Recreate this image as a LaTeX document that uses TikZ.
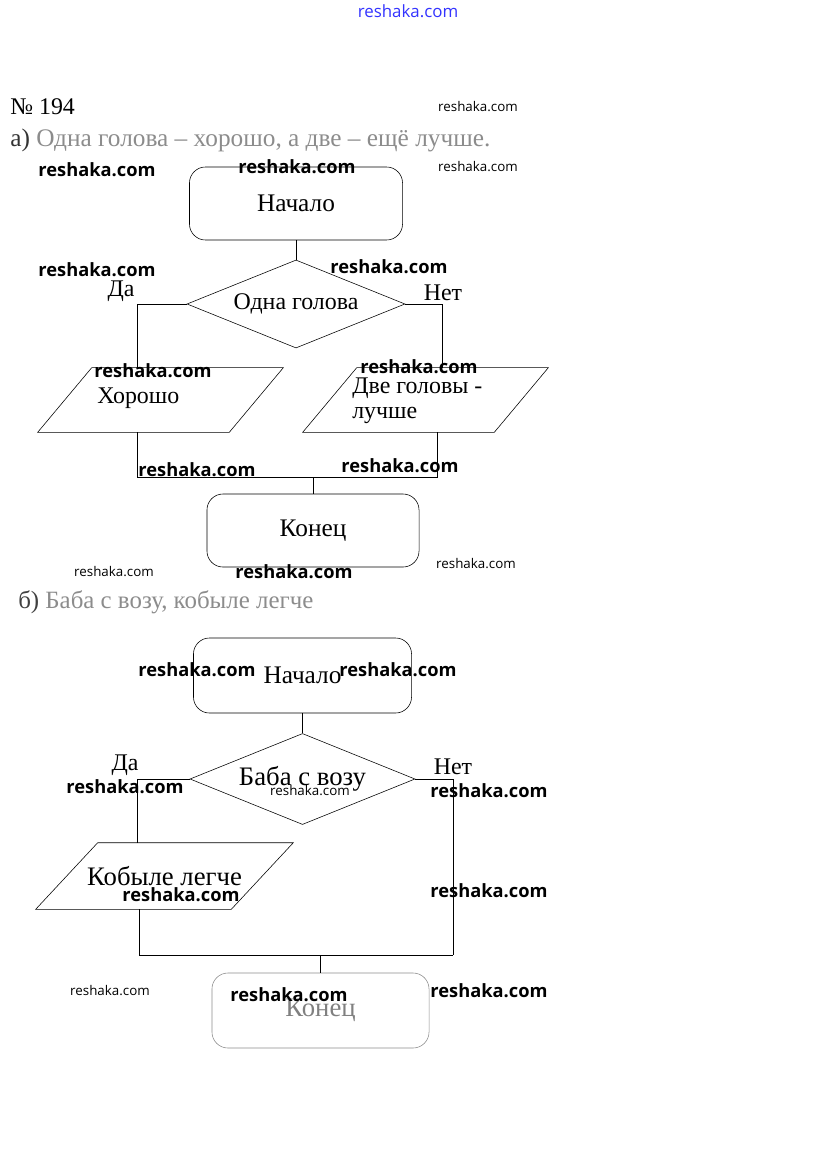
\documentclass[tikz,border=0pt]{standalone}
\usepackage{fontspec}
\setmainfont{Liberation Serif}
\newfontfamily\wmfont{Open Sans}
\usetikzlibrary{positioning}
\usetikzlibrary{shapes.geometric}
\usetikzlibrary{calc}
\tikzset{term/.style={draw, rounded corners=0.4cm, inner sep=0pt, font=\fontsize{18}{20}\selectfont}}
\tikzset{cond/.style={draw, diamond, aspect=2.5, inner sep=0pt, font=\fontsize{17}{19}\selectfont}}
\tikzset{io/.style={rectangle, inner sep=0pt, font=\fontsize{19}{21}\selectfont}}
\tikzset{txt/.style={inner sep=0pt, font=\fontsize{17}{18}\selectfont}}
\tikzset{head/.style={inner sep=0pt, anchor=west, font=\fontsize{18}{20}\selectfont}}
\tikzset{wm/.style={inner sep=0pt, font=\wmfont\bfseries\fontsize{13}{13}\selectfont}}
\tikzset{wms/.style={inner sep=0pt, font=\wmfont\fontsize{9.5}{10}\selectfont}}
\newcommand{\drawio}[2]{\draw ($(#1.north west)+(#2,0)$) -- ($(#1.north east)+(#2,0)$) -- ($(#1.south east)+(-#2,0)$) -- ($(#1.south west)+(-#2,0)$) -- cycle;}

\begin{document}
\begin{tikzpicture}[x=0.025cm, y=-0.025cm]
\useasboundingbox (0,0) rectangle (815,1150);

% headings
\node[head, font=\fontsize{17}{19}\selectfont] (num) at (10,107) {№ 194};
\node[head, text=black!45] (ha) at (10,140) {\textcolor{black!80}{а)} Одна голова – хорошо, а две – ещё лучше.};
\node[head, text=black!45, font=\fontsize{17.7}{19}\selectfont] (hb) at (18,602) {\textcolor{black!75}{б)} Баба с возу, кобыле легче};

% part a
\node[term, minimum width=5.325cm, minimum height=1.825cm] (nach1) at (296,203.5) {Начало};
\node[cond, minimum width=5.45cm, minimum height=2.2cm] (diam1) at (296,304) {Одна голова};
\node[io, minimum width=4.775cm, minimum height=1.6cm] (para1) at (160.5,400) {};
\node[io, minimum width=4.775cm, minimum height=1.6cm] (para2) at (425.5,400) {};
\drawio{para1}{27}
\drawio{para2}{27}
\node[txt, anchor=west] (hor) at (97,398) {Хорошо};
\node[txt, anchor=west, align=left] (dve) at (352,401) {Две головы -\\лучше};
\node[term, minimum width=5.3cm, minimum height=1.825cm] (kon1) at (313,530.5) {Конец};
\node[txt] (da1) at (121,291) {Да};
\node[txt] (net1) at (443,293) {Нет};

\coordinate (l1) at (137,304);
\coordinate (r1) at (442,304);
\coordinate (jl1) at (137,477);
\coordinate (jr1) at (437,477);

\draw (nach1) -- (diam1);
\draw (diam1.west) -- (l1) -- (l1 |- para1.north);
\draw (diam1.east) -- (r1) -- (r1 |- para2.north);
\draw (jl1 |- para1.south) -- (jl1) -- (jr1) -- (jr1 |- para2.south);
\draw (kon1.north) -- (kon1.north |- jl1);

% part b
\node[term, minimum width=5.45cm, minimum height=1.875cm] (nach2) at (302.5,675.5) {Начало};
\node[cond, minimum width=5.625cm, minimum height=2.275cm, font=\fontsize{19}{21}\selectfont] (diam2) at (302.5,779) {Баба с возу};
\node[io, minimum width=4.875cm, minimum height=1.65cm] (para3) at (164.5,876) {Кобыле легче};
\drawio{para3}{31}
\node[term, draw=black!45, text=black!50, minimum width=5.425cm, minimum height=1.875cm, font=\fontsize{19}{21}\selectfont] (kon2) at (320.5,1010.5) {Конец};
\node[txt] (da2) at (125,765) {Да};
\node[txt] (net2) at (453,767) {Нет};

\coordinate (l2) at (137,779);
\coordinate (r2) at (453,779);
\coordinate (jl2) at (139,955);
\coordinate (jr2) at (453,955);

\draw (nach2) -- (diam2);
\draw (diam2.west) -- (l2) -- (l2 |- para3.north);
\draw (diam2.east) -- (r2) -- (jr2);
\draw (jl2 |- para3.south) -- (jl2) -- (jr2);
\draw (kon2.north) -- (kon2.north |- jl2);

% watermarks
\node[inner sep=0pt, text=blue!80, font=\wmfont\fontsize{12}{12}\selectfont] (wm0) at (408,11) {reshaka.com};
\foreach \x/\y [count=\i] in {97/170, 297/167, 97/270, 389/267, 153/371, 419/367,
    197/470, 400/466, 294/572, 197/670, 398/670, 125/787, 489/791,
    181/895, 489/891, 289/995, 489/991}
  \node[wm] (wm\i) at (\x,\y) {reshaka.com};
\foreach \x/\y [count=\i] in {478/107, 478/167, 114/572, 476/564, 310/791, 110/991}
  \node[wms] (wms\i) at (\x,\y) {reshaka.com};
\end{tikzpicture}
\end{document}
